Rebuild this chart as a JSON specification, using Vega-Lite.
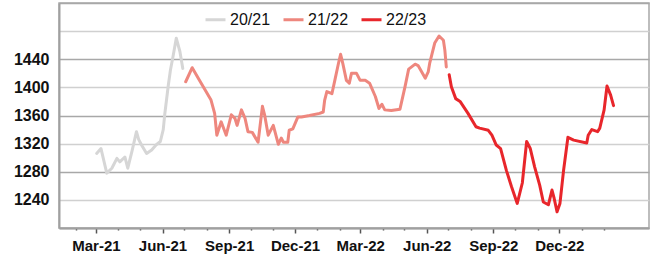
{
  "$schema": "https://vega.github.io/schema/vega-lite/v6.json",
  "autosize": "none",
  "width": 590,
  "height": 225,
  "padding": {"left": 59, "top": 3, "right": 19, "bottom": 34},
  "background": "#ffffff",
  "config": {
    "view": {"stroke": "#a8a8a8", "strokeWidth": 1.5},
    "font": "Liberation Sans"
  },
  "data": {"values": [
    {"season":"20/21","date":"2021-03-02","price":1306},
    {"season":"20/21","date":"2021-03-08","price":1313},
    {"season":"20/21","date":"2021-03-16","price":1278},
    {"season":"20/21","date":"2021-03-23","price":1285},
    {"season":"20/21","date":"2021-03-30","price":1299},
    {"season":"20/21","date":"2021-04-03","price":1294},
    {"season":"20/21","date":"2021-04-10","price":1301},
    {"season":"20/21","date":"2021-04-14","price":1285},
    {"season":"20/21","date":"2021-04-20","price":1310},
    {"season":"20/21","date":"2021-04-26","price":1337},
    {"season":"20/21","date":"2021-04-29","price":1326},
    {"season":"20/21","date":"2021-05-03","price":1318},
    {"season":"20/21","date":"2021-05-10","price":1306},
    {"season":"20/21","date":"2021-05-17","price":1311},
    {"season":"20/21","date":"2021-05-23","price":1318},
    {"season":"20/21","date":"2021-05-29","price":1323},
    {"season":"20/21","date":"2021-06-02","price":1340},
    {"season":"20/21","date":"2021-06-04","price":1361},
    {"season":"20/21","date":"2021-06-09","price":1403},
    {"season":"20/21","date":"2021-06-12","price":1425},
    {"season":"20/21","date":"2021-06-15","price":1441},
    {"season":"20/21","date":"2021-06-20","price":1470},
    {"season":"20/21","date":"2021-06-25","price":1451},
    {"season":"20/21","date":"2021-06-29","price":1427},
    {"season":"21/22","date":"2021-07-03","price":1408},
    {"season":"21/22","date":"2021-07-12","price":1428},
    {"season":"21/22","date":"2021-07-22","price":1410},
    {"season":"21/22","date":"2021-08-07","price":1382},
    {"season":"21/22","date":"2021-08-12","price":1363},
    {"season":"21/22","date":"2021-08-15","price":1332},
    {"season":"21/22","date":"2021-08-21","price":1351},
    {"season":"21/22","date":"2021-08-28","price":1332},
    {"season":"21/22","date":"2021-09-04","price":1361},
    {"season":"21/22","date":"2021-09-09","price":1356},
    {"season":"21/22","date":"2021-09-12","price":1346},
    {"season":"21/22","date":"2021-09-18","price":1368},
    {"season":"21/22","date":"2021-09-23","price":1356},
    {"season":"21/22","date":"2021-09-27","price":1337},
    {"season":"21/22","date":"2021-10-03","price":1336},
    {"season":"21/22","date":"2021-10-11","price":1322},
    {"season":"21/22","date":"2021-10-17","price":1373},
    {"season":"21/22","date":"2021-10-20","price":1361},
    {"season":"21/22","date":"2021-10-25","price":1332},
    {"season":"21/22","date":"2021-11-01","price":1346},
    {"season":"21/22","date":"2021-11-08","price":1319},
    {"season":"21/22","date":"2021-11-12","price":1328},
    {"season":"21/22","date":"2021-11-15","price":1322},
    {"season":"21/22","date":"2021-11-21","price":1322},
    {"season":"21/22","date":"2021-11-23","price":1339},
    {"season":"21/22","date":"2021-11-28","price":1341},
    {"season":"21/22","date":"2021-12-05","price":1358},
    {"season":"21/22","date":"2021-12-10","price":1358},
    {"season":"21/22","date":"2021-12-21","price":1360},
    {"season":"21/22","date":"2022-01-04","price":1363},
    {"season":"21/22","date":"2022-01-09","price":1365},
    {"season":"21/22","date":"2022-01-11","price":1382},
    {"season":"21/22","date":"2022-01-14","price":1394},
    {"season":"21/22","date":"2022-01-21","price":1391},
    {"season":"21/22","date":"2022-01-25","price":1410},
    {"season":"21/22","date":"2022-01-30","price":1434},
    {"season":"21/22","date":"2022-02-02","price":1447},
    {"season":"21/22","date":"2022-02-05","price":1434},
    {"season":"21/22","date":"2022-02-10","price":1410},
    {"season":"21/22","date":"2022-02-14","price":1406},
    {"season":"21/22","date":"2022-02-17","price":1420},
    {"season":"21/22","date":"2022-02-24","price":1420},
    {"season":"21/22","date":"2022-03-01","price":1410},
    {"season":"21/22","date":"2022-03-08","price":1410},
    {"season":"21/22","date":"2022-03-14","price":1406},
    {"season":"21/22","date":"2022-03-22","price":1387},
    {"season":"21/22","date":"2022-03-27","price":1370},
    {"season":"21/22","date":"2022-03-31","price":1376},
    {"season":"21/22","date":"2022-04-04","price":1368},
    {"season":"21/22","date":"2022-04-13","price":1367},
    {"season":"21/22","date":"2022-04-25","price":1369},
    {"season":"21/22","date":"2022-05-02","price":1401},
    {"season":"21/22","date":"2022-05-07","price":1426},
    {"season":"21/22","date":"2022-05-16","price":1433},
    {"season":"21/22","date":"2022-05-20","price":1431},
    {"season":"21/22","date":"2022-05-30","price":1413},
    {"season":"21/22","date":"2022-06-03","price":1422},
    {"season":"21/22","date":"2022-06-05","price":1434},
    {"season":"21/22","date":"2022-06-12","price":1463},
    {"season":"21/22","date":"2022-06-18","price":1473},
    {"season":"21/22","date":"2022-06-24","price":1467},
    {"season":"21/22","date":"2022-06-26","price":1453},
    {"season":"21/22","date":"2022-06-28","price":1429},
    {"season":"22/23","date":"2022-07-02","price":1418},
    {"season":"22/23","date":"2022-07-05","price":1401},
    {"season":"22/23","date":"2022-07-11","price":1384},
    {"season":"22/23","date":"2022-07-17","price":1380},
    {"season":"22/23","date":"2022-07-28","price":1363},
    {"season":"22/23","date":"2022-08-08","price":1344},
    {"season":"22/23","date":"2022-08-13","price":1342},
    {"season":"22/23","date":"2022-08-25","price":1339},
    {"season":"22/23","date":"2022-08-30","price":1332},
    {"season":"22/23","date":"2022-09-05","price":1318},
    {"season":"22/23","date":"2022-09-11","price":1313},
    {"season":"22/23","date":"2022-09-19","price":1282},
    {"season":"22/23","date":"2022-09-26","price":1259},
    {"season":"22/23","date":"2022-10-04","price":1235},
    {"season":"22/23","date":"2022-10-11","price":1264},
    {"season":"22/23","date":"2022-10-17","price":1323},
    {"season":"22/23","date":"2022-10-22","price":1313},
    {"season":"22/23","date":"2022-10-28","price":1287},
    {"season":"22/23","date":"2022-11-04","price":1261},
    {"season":"22/23","date":"2022-11-09","price":1237},
    {"season":"22/23","date":"2022-11-16","price":1233},
    {"season":"22/23","date":"2022-11-21","price":1254},
    {"season":"22/23","date":"2022-11-24","price":1242},
    {"season":"22/23","date":"2022-11-28","price":1223},
    {"season":"22/23","date":"2022-12-02","price":1235},
    {"season":"22/23","date":"2022-12-07","price":1282},
    {"season":"22/23","date":"2022-12-13","price":1329},
    {"season":"22/23","date":"2022-12-21","price":1325},
    {"season":"22/23","date":"2023-01-08","price":1321},
    {"season":"22/23","date":"2023-01-10","price":1332},
    {"season":"22/23","date":"2023-01-15","price":1340},
    {"season":"22/23","date":"2023-01-23","price":1337},
    {"season":"22/23","date":"2023-01-26","price":1342},
    {"season":"22/23","date":"2023-02-01","price":1368},
    {"season":"22/23","date":"2023-02-05","price":1402},
    {"season":"22/23","date":"2023-02-10","price":1389},
    {"season":"22/23","date":"2023-02-14","price":1374}
  ]},
  "mark": {"type": "line", "strokeJoin": "round", "strokeCap": "round"},
  "encoding": {
    "x": {
      "field": "date", "type": "temporal",
      "scale": {"type": "utc", "domain": ["2021-01-09", "2023-04-04"], "nice": false},
      "axis": {
        "title": null,
        "grid": false,
        "tickCount": {"interval": "month", "step": 1},
        "labelExpr": "utcmonth(datum.value) % 3 == 2 && utcyear(datum.value) < 2023 ? utcFormat(datum.value, '%b-%y') : ''",
        "labelOverlap": false,
        "labelFlush": false,
        "labelFontSize": 15,
        "labelFontWeight": "bold",
        "labelColor": "#111111",
        "labelPadding": 5,
        "domainColor": "#a0a0a0",
        "domainWidth": 2,
        "tickColor": "#555555",
        "tickWidth": 1.5,
        "tickOpacity": {"condition": {"test": "utcyear(datum.value) >= 2023 && utcmonth(datum.value) >= 2", "value": 0}, "value": 1},
        "tickSize": {"condition": {"test": "utcmonth(datum.value) % 3 == 2", "value": 5}, "value": 2}
      }
    },
    "y": {
      "field": "price", "type": "quantitative",
      "scale": {"domain": [1200, 1520], "nice": false, "zero": false},
      "axis": {
        "title": null,
        "values": [1200, 1240, 1280, 1320, 1360, 1400, 1440, 1480, 1520],
        "labelExpr": "datum.value >= 1240 && datum.value <= 1440 ? datum.label : ''",
        "format": "d",
        "ticks": false,
        "labelPadding": 10,
        "labelFontSize": 16,
        "labelFontWeight": "bold",
        "labelColor": "#111111",
        "domainColor": "#a0a0a0",
        "domainWidth": 2,
        "gridColor": {"condition": {"test": "datum.value % 80 == 0", "value": "#a8a8a8"}, "value": "#d0d0d0"},
        "gridWidth": 1.5
      }
    },
    "color": {
      "field": "season", "type": "nominal",
      "scale": {"domain": ["20/21", "21/22", "22/23"], "range": ["#d6d6d6", "#ee877e", "#e8262b"]},
      "legend": {
        "title": null,
        "orient": "none",
        "direction": "horizontal",
        "legendX": 145,
        "legendY": 5,
        "symbolType": "stroke",
        "symbolStrokeWidth": 5,
        "symbolSize": 400,
        "labelFontSize": 16,
        "labelColor": "#111111",
        "labelOffset": 3,
        "columnPadding": 6
      }
    },
    "strokeWidth": {
      "field": "season", "type": "nominal",
      "scale": {"domain": ["20/21", "21/22", "22/23"], "range": [3, 3, 5.5]},
      "legend": null
    }
  }
}
